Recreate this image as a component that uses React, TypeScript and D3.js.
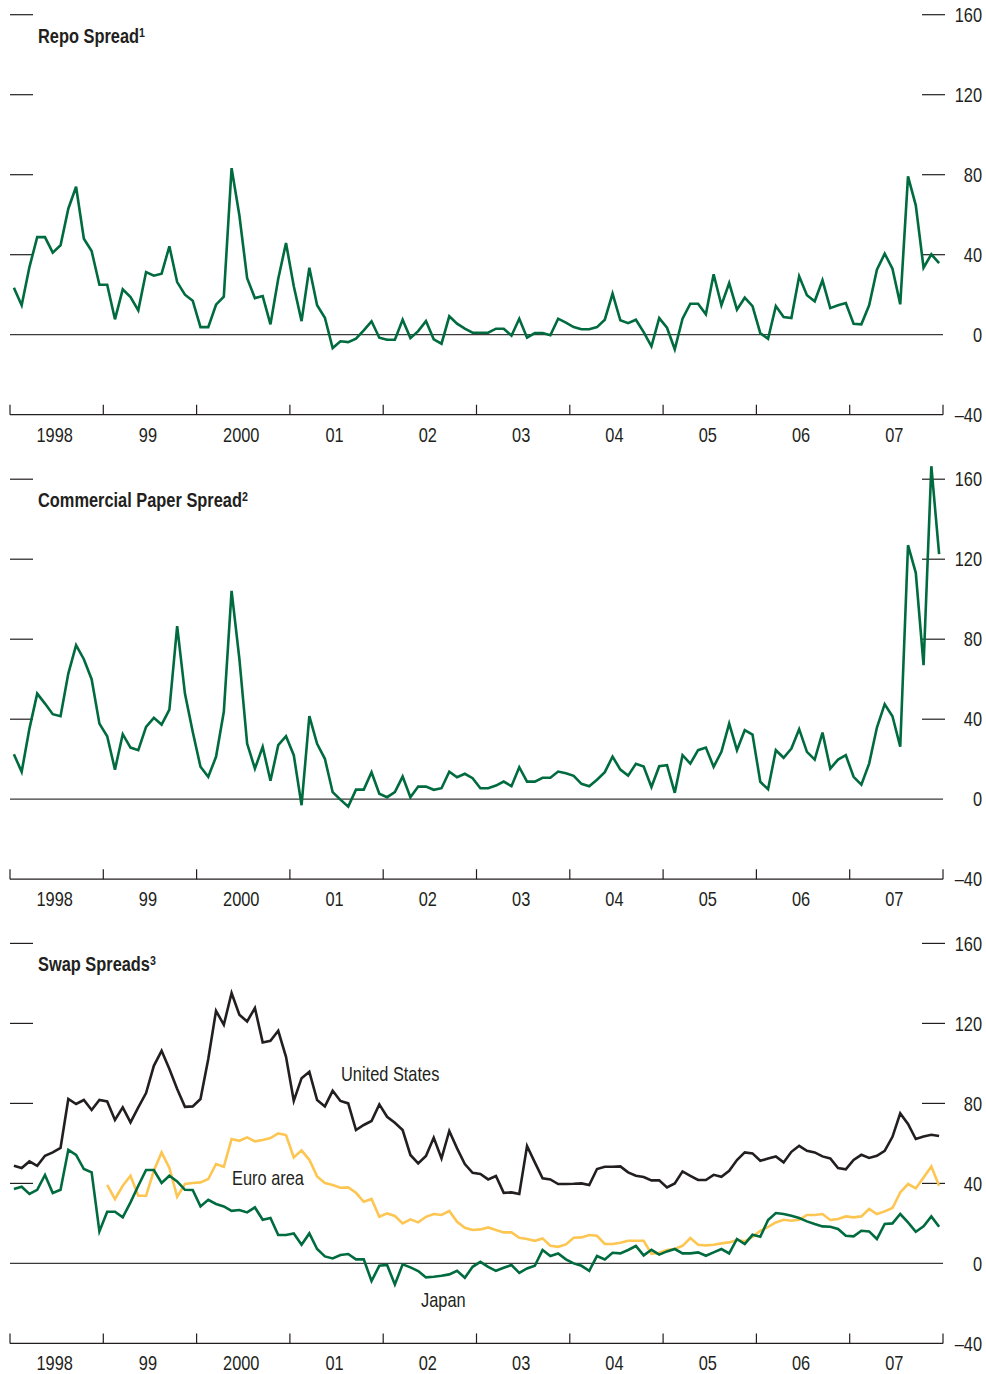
import React from "react";
import * as d3 from "d3";

// monthly observations, Jan 1998 - Dec 2007 (basis points)
const repoSpread = [
  23.5, 14.7, 33.8, 48.8, 48.8, 41, 44.7, 63, 74, 48,
  41.8, 25, 25, 7.7, 22.7, 18.8, 12.2, 31.3, 29.5, 30.5,
  44.2, 26.3, 20, 17, 3.8, 3.8, 15, 19, 83.3, 59.7,
  28.3, 18.3, 19.3, 5.2, 28, 45.8, 24.2, 6.8, 33.5, 14.7,
  8.5, -6.7, -3.3, -3.7, -2, 2.2, 6.7, -1.5, -2.5, -2.5,
  7.5, -1.7, 1.8, 6.8, -2.3, -4.5, 9.2, 5.5, 3, 1,
  1, 1, 3, 3, -0.5, 8, -1.5, 0.8, 0.8, -0.3,
  8, 6, 3.8, 2.7, 2.7, 3.8, 7.5, 20.5, 7.2, 5.8,
  7.5, 1.3, -5.8, 8.3, 3.5, -7.3, 8, 15.5, 15.5, 10.2,
  30.2, 14.7, 25.8, 12.5, 18.5, 14.3, 0.8, -2, 14.3, 8.8,
  8.3, 29.2, 19.7, 16.7, 27.2, 13.3, 14.7, 15.8, 5.5, 5.2,
  14.7, 32.5, 40.5, 33, 15.2, 79.2, 64.7, 33.5, 40.2, 35.8,
];

const cpSpread = [
  22.5, 13.7, 35.3, 52.8, 47.8, 42.5, 41.5, 62.8, 77, 70,
  60, 37.8, 31.5, 14.8, 32.5, 25.8, 24.5, 36.2, 40.7, 37.3,
  44.8, 86.5, 52.8, 33.7, 16.2, 11.2, 21.2, 43.7, 104.2, 70.3,
  27.8, 15.3, 26.2, 9.2, 27, 31.5, 22, -3, 41.5, 27.7,
  20.2, 3.5, -0.2, -3.7, 4.8, 4.8, 13.5, 2.7, 1, 3.5,
  11.3, 1, 6.3, 6.3, 4.7, 5.5, 13.8, 11, 12.7, 10.5,
  5.5, 5.5, 6.8, 8.8, 6.5, 16, 8.8, 8.8, 10.7, 10.7,
  13.8, 13, 11.7, 7.7, 6.5, 9.7, 13.5, 21.3, 14.8, 11.8,
  17.7, 16.3, 6.1, 16.5, 17, 3.2, 22, 17.8, 24.5, 25.8,
  16.2, 23.7, 37.8, 24.5, 34.5, 32.3, 8.7, 5, 24.5, 20.7,
  25.3, 35, 23.7, 19.8, 33.3, 15.3, 19.8, 22, 11.2, 7.3,
  17.8, 35.8, 47.5, 41.5, 26.2, 127, 113.2, 67, 166.5, 122.5,
];

const usSwap = [
  48.8, 47.7, 51, 48.8, 53.8, 55.5, 57.7, 82.2, 79.7, 81.7,
  76.7, 81.7, 81, 71.7, 78, 70.5, 78, 85.2, 98.8, 106.3,
  97.2, 87.2, 78.3, 78.5, 82.2, 102.2, 126.3, 119.3, 135.2, 124.3,
  121, 127.7, 110.5, 111.3, 116.3, 103.3, 81.3, 92.6, 95.8, 81.7,
  78.5, 86.3, 81.2, 80, 66.7, 69.2, 71.2, 79.5, 73.3, 70.3,
  66.7, 54.2, 50, 53.7, 62.8, 52.5, 66.2, 57.5, 49.7, 45.3,
  44.7, 42, 43.7, 35.3, 35.5, 34.7, 58.7, 50.5, 42.5, 42,
  39.7, 39.7, 39.8, 40, 39.2, 47.2, 48.3, 48.3, 48.5, 45.5,
  43.8, 43.2, 41.5, 41.5, 38, 40, 46, 43.8, 41.7, 41.7,
  44.3, 43.3, 46.3, 51.7, 55.5, 55, 51.3, 52.5, 53.5, 50.5,
  55.8, 58.8, 56.3, 55.5, 53.5, 52.5, 47.7, 47, 51.7, 54.3,
  52.7, 53.8, 56.3, 63.3, 75, 69.7, 62.2, 63.5, 64.3, 63.7,
];

const euroSwap = [
  null, null, null, null, null, null, null, null, null, null,
  null, null, 39.3, 32.2, 38.8, 43.8, 33.8, 33.8, 46.3, 55.5,
  47.7, 33.3, 39.7, 40.2, 40.5, 42.2, 49.7, 48.3, 62.2, 61.3,
  63, 61, 61.7, 62.7, 65, 64.2, 53, 56.5, 51.8, 43.5,
  40.2, 39.2, 37.8, 38, 35.3, 30.8, 32.2, 23.3, 25, 23.7,
  20, 22, 20.5, 23.3, 24.7, 24.2, 26.2, 20.8, 17.8, 16.7,
  17, 18, 16.7, 15.5, 15.5, 12.8, 12.2, 11.3, 12.5, 8.8,
  8.3, 9.5, 12.8, 13, 14.2, 13.8, 9.7, 9.7, 10.3, 11.3,
  11.3, 11.3, 4.8, 5.3, 6.7, 7.2, 8.8, 12.7, 9.3, 9,
  9.3, 10, 10.5, 11.7, 11, 13.3, 16.3, 18.3, 20.5, 21.8,
  21.3, 21.8, 24.2, 24.2, 24.7, 21.7, 22.2, 23.5, 23, 23.5,
  27.2, 24.7, 26, 27.7, 35.5, 39.7, 37.5, 43, 48.5, 38.8,
];

const japanSwap = [
  37.2, 38.3, 34.7, 36.8, 44.2, 35.2, 36.8, 56.8, 54.3, 47.2,
  45.5, 16, 25.8, 25.8, 23, 30.5, 38.8, 46.7, 46.7, 40.2,
  43.8, 41, 36.8, 36.7, 28.5, 31.8, 29.7, 28.5, 26.3, 26.7,
  25.5, 28, 21.8, 22.7, 14.2, 14.2, 15, 9.3, 15, 7.2,
  3.5, 2.5, 4.2, 4.7, 2, 2, -8.8, -1.2, -0.8, -10.5,
  -0.5, -2, -3.8, -7, -6.7, -6.2, -5.5, -3.7, -7.2, -1.7,
  0.8, -1.7, -3.7, -2.2, -0.8, -4.7, -2.5, -1.2, 6.7, 3.7,
  5, 2, 0, -1.2, -3.7, 3.7, 2, 5.3, 5, 6.7,
  8.7, 4, 6.8, 4.4, 6, 7.2, 5, 5, 5.5, 3.8,
  5.5, 7.2, 5, 12.2, 9.7, 14.3, 13.3, 21.7, 25.2, 24.7,
  23.8, 22.7, 21, 19.7, 18.5, 18.3, 17.2, 13.8, 13.5, 16.3,
  16, 12.2, 19.7, 20, 24.7, 20.5, 15.8, 18.5, 23.5, 18.3,
];

const yearLabels = ["1998", "99", "2000", "01", "02", "03", "04", "05", "06", "07"];
const yTicks = [160, 120, 80, 40, 0, -40];

const GREEN = "#006b3f";
const BLACK = "#231f20";
const YELLOW = "#fdc652";
const INK = "#231f20";
const FONT = "'Liberation Sans', Arial, sans-serif";
const SQUEEZE = 0.82; // reference uses a condensed face

const x = d3.scaleLinear().domain([0, 120]).range([10, 943]);

// condensed text: regular face squeezed horizontally around its anchor
function NText({ x, y, anchor = "start", size = 20, bold = false, dy, children }: any) {
  return (
    <text transform={`translate(${x},${y}) scale(${SQUEEZE},1)`} textAnchor={anchor} dy={dy}
      fontFamily={FONT} fontSize={size} fontWeight={bold ? "bold" : "normal"} fill={INK}>
      {children}
    </text>
  );
}

type Series = { values: (number | null)[]; color: string };
type Label = { text: string; x: number; y: number };

function Panel({ top, title, sup, series, labels = [] }: {
  top: number; title: string; sup: string; series: Series[]; labels?: Label[];
}) {
  const y = d3.scaleLinear().domain([-40, 160]).range([top + 400, top]);
  const line = d3.line<number | null>()
    .defined(d => d != null)
    .x((_, i) => x(i + 0.5))
    .y(d => y(d as number));
  const yearTicks = d3.range(0, 121, 12);

  return (
    <g>
      {yTicks.filter(v => v > 0).map(v => (
        <line key={"l" + v} x1={10} x2={33} y1={y(v)} y2={y(v)} stroke={INK} strokeWidth={1.2} />
      ))}
      {yTicks.filter(v => v > 0).map(v => (
        <line key={"r" + v} x1={922} x2={945} y1={y(v)} y2={y(v)} stroke={INK} strokeWidth={1.2} />
      ))}
      {yTicks.map(v => (
        <NText key={"t" + v} x={982} y={y(v)} dy="0.36em" anchor="end">
          {v < 0 ? "\u2013" + Math.abs(v) : String(v)}
        </NText>
      ))}
      <line x1={10} x2={943} y1={y(0)} y2={y(0)} stroke="#3a3a3a" strokeWidth={1.2} />
      <line x1={10} x2={943} y1={y(-40)} y2={y(-40)} stroke={INK} strokeWidth={1.2} />
      {yearTicks.map(m => (
        <line key={"x" + m} x1={x(m)} x2={x(m)} y1={y(-40) - 10} y2={y(-40)} stroke={INK} strokeWidth={1.2} />
      ))}
      {yearLabels.map((lab, i) => (
        <NText key={lab} x={x(i * 12 + 6) - 2} y={y(-40) + 27} anchor="middle">{lab}</NText>
      ))}
      <NText x={38} y={top + 28} size={20} bold>
        {title}
        <tspan fontSize={13} dy={-6}>{sup}</tspan>
      </NText>
      {series.map((s, i) => (
        <path key={i} d={line(s.values) || ""} fill="none" stroke={s.color}
          strokeWidth={2.6} strokeLinejoin="miter" />
      ))}
      {labels.map(l => (
        <NText key={l.text} x={l.x} y={l.y}>{l.text}</NText>
      ))}
    </g>
  );
}

export default function App() {
  return (
    <svg width={986} height={1374} style={{ position: "absolute", left: 0, top: 0, background: "#fff" }}>
      <Panel top={14.7} title="Repo Spread" sup="1"
        series={[{ values: repoSpread, color: GREEN }]} />
      <Panel top={479.2} title="Commercial Paper Spread" sup="2"
        series={[{ values: cpSpread, color: GREEN }]} />
      <Panel top={943.4} title="Swap Spreads" sup="3"
        series={[
          { values: euroSwap, color: YELLOW },
          { values: japanSwap, color: GREEN },
          { values: usSwap, color: BLACK },
        ]}
        labels={[
          { text: "United States", x: 341, y: 1081 },
          { text: "Euro area", x: 232, y: 1185 },
          { text: "Japan", x: 421, y: 1307 },
        ]} />
    </svg>
  );
}
